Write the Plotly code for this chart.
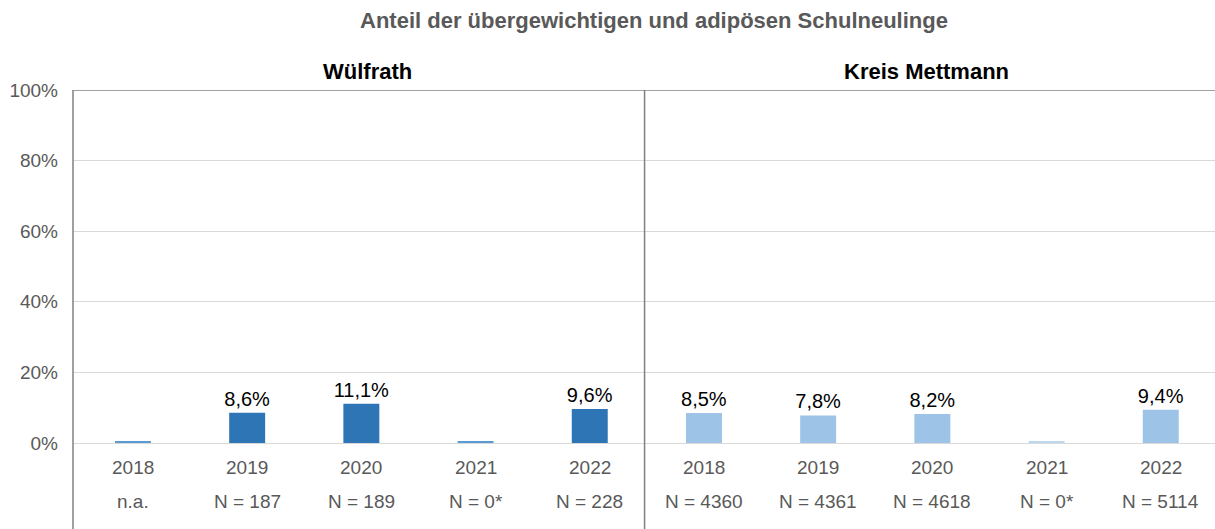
import plotly.graph_objects as go

# ---- data ----
years = ["2018", "2019", "2020", "2021", "2022"]
wuelfrath_values = [None, 8.6, 11.1, None, 9.6]
wuelfrath_n = ["n.a.", "N = 187", "N = 189", "N = 0*", "N = 228"]
kreis_values = [8.5, 7.8, 8.2, None, 9.4]
kreis_n = ["N = 4360", "N = 4361", "N = 4618", "N = 0*", "N = 5114"]
panel_titles = ["Wülfrath", "Kreis Mettmann"]
y_ticks = [0, 20, 40, 60, 80, 100]
title_text = "Anteil der übergewichtigen und adipösen Schulneulinge"

# ---- styles ----
FONT = "Liberation Sans, Arial, sans-serif"
DARK = "#2E75B6"
LIGHT = "#9DC3E6"
STUB_DARK = "#5B9BD5"
STUB_LIGHT = "#BDD7EE"
NA_STUB = 0.35
GRID = "#D9D9D9"
AXIS = "#808080"
TXT = "#595959"

def fmt(v):
    return "" if v is None else f"{v:.1f}%".replace(".", ",")

fig = go.Figure()

groups = [
    (wuelfrath_values, wuelfrath_n, DARK, STUB_DARK, 0),
    (kreis_values, kreis_n, LIGHT, STUB_LIGHT, len(years)),
]

for vals, ns, col, stubcol, off in groups:
    xs = [off + i for i in range(len(years))]
    fig.add_trace(go.Bar(
        x=xs,
        y=[v if v is not None else NA_STUB for v in vals],
        text=[fmt(v) for v in vals],
        textposition="outside",
        constraintext="none",
        textfont=dict(family=FONT, size=20, color="#000000"),
        marker=dict(color=[col if v is not None else stubcol for v in vals], line=dict(width=0)),
        width=0.315,
        cliponaxis=False,
        hoverinfo="skip",
        showlegend=False,
    ))
    for i, x in enumerate(xs):
        fig.add_annotation(x=x, xref="x", y=-0.068, yref="paper", text=years[i],
                           showarrow=False, yanchor="middle",
                           font=dict(family=FONT, size=19, color=TXT))
        fig.add_annotation(x=x, xref="x", y=-0.165, yref="paper", text=ns[i],
                           showarrow=False, yanchor="middle",
                           font=dict(family=FONT, size=19, color=TXT))

# panel titles
fig.add_annotation(x=2.05, xref="x", y=1.051, yref="paper", text=f"<b>{panel_titles[0]}</b>",
                   showarrow=False, yanchor="middle",
                   font=dict(family=FONT, size=22, color="#000000"))
fig.add_annotation(x=6.95, xref="x", y=1.051, yref="paper", text=f"<b>{panel_titles[1]}</b>",
                   showarrow=False, yanchor="middle",
                   font=dict(family=FONT, size=22, color="#000000"))
# main title
fig.add_annotation(x=0.509, xref="paper", y=1.198, yref="paper", text=f"<b>{title_text}</b>",
                   showarrow=False, yanchor="middle",
                   font=dict(family=FONT, size=22, color=TXT))

# lines: left axis, divider, top
fig.add_shape(type="line", xref="paper", yref="paper", x0=0, x1=0, y0=-0.3, y1=1,
              line=dict(color=AXIS, width=1.5))
fig.add_shape(type="line", xref="x", yref="paper", x0=len(years) - 0.52, x1=len(years) - 0.52,
              y0=-0.3, y1=1, line=dict(color=AXIS, width=1.5))
fig.add_shape(type="line", xref="paper", yref="y", x0=0, x1=1, y0=100, y1=100,
              line=dict(color=AXIS, width=1.5))

fig.update_layout(
    width=1215, height=529,
    margin=dict(l=73, r=0, t=90, b=86),
    paper_bgcolor="white", plot_bgcolor="white",
    hovermode=False,
    xaxis=dict(range=[-0.525, 2 * len(years) - 0.525], showticklabels=False, showgrid=False,
               zeroline=False, showline=False, ticks="", fixedrange=True),
    yaxis=dict(range=[0, 100], tickvals=y_ticks, ticktext=[f"{t}%" for t in y_ticks],
               showgrid=True, gridcolor=GRID, gridwidth=1.2,
               zeroline=True, zerolinecolor=GRID, zerolinewidth=1.2,
               showline=False, ticks="", ticklabelstandoff=14,
               tickfont=dict(family=FONT, size=19, color=TXT), fixedrange=True),
)

fig.write_html("out.html", config={"displayModeBar": False},
               post_script="document.body.style.margin='0';document.body.style.overflow='hidden';")
